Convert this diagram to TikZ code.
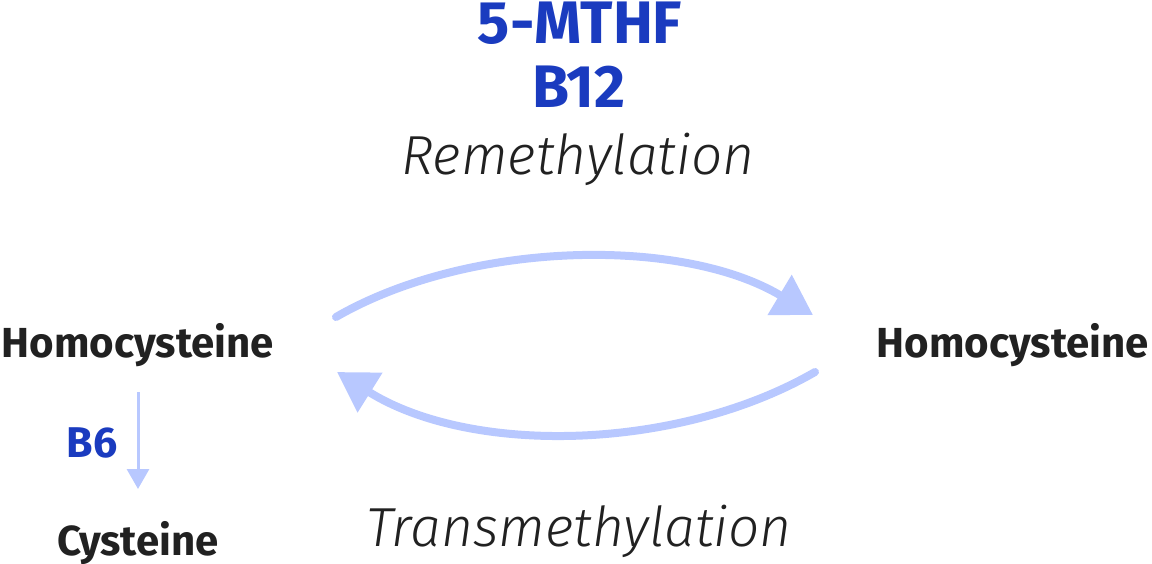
\documentclass[tikz,border=0pt]{standalone}
\usepackage{fontspec}
\setmainfont{Fira Sans}
\newfontfamily\thinfont[Ligatures=NoCommon]{Fira Sans Light}
\usepackage{tikz}
\usetikzlibrary{arrows.meta,positioning}
\definecolor{vitblue}{HTML}{1A3BBF}
\definecolor{cyclecol}{HTML}{B8C8FF}
\definecolor{inkgray}{HTML}{212121}

\begin{document}
\begin{tikzpicture}[x=1pt, y=-1pt,
    metab/.style={font=\fontsize{42}{46}\selectfont\bfseries, text=inkgray, inner sep=0pt, anchor=base},
    vit/.style={font=\fontsize{60}{64}\selectfont\bfseries, text=vitblue, inner sep=0pt, anchor=base},
    vitsmall/.style={vit, font=\fontsize{43}{46}\selectfont\bfseries},
    route/.style={font=\fontsize{55}{60}\thinfont\itshape\selectfont, text=inkgray, inner sep=0pt, anchor=base},
    cyclearr/.style={draw=cyclecol, line width=8pt, line cap=round, -{Triangle[length=39pt,width=45pt]}},
    downarr/.style={draw=cyclecol, line width=3pt, -{Triangle[length=20pt,width=22pt]}}]
        \useasboundingbox (0,0) rectangle (1152,564);

        \node[vit]   (mthf)  at (580, 44)  {5-MTHF};
        \node[vit]   (bXII)  at (579, 108) {B12};
        \node[route] (remeth) at (578, 175) {Remethylation};

        \node[metab] (hcyL) at (138, 357)  {Homocysteine};
        \node[metab] (hcyR) at (1013, 357) {Homocysteine};
        \node[metab] (cys)  at (138, 555)  {Cysteine};
        \node[vitsmall] (bVI) at (92, 457) {B6};

        \node[route] (transmeth) at (579, 546) {Transmethylation};

        \draw[cyclearr] ([shift={(198,-40)}]hcyL.base) to[out=30, in=149, looseness=0.82] ([shift={(-200,-42)}]hcyR.base);
        \draw[cyclearr] ([shift={(-198,15)}]hcyR.base) to[out=210, in=-32, looseness=0.85] ([shift={(199,15)}]hcyL.base);
        \draw[downarr, shorten <=35pt, shorten >=66pt] (hcyL.base) -- (cys.base);
      \end{tikzpicture}
\end{document}
